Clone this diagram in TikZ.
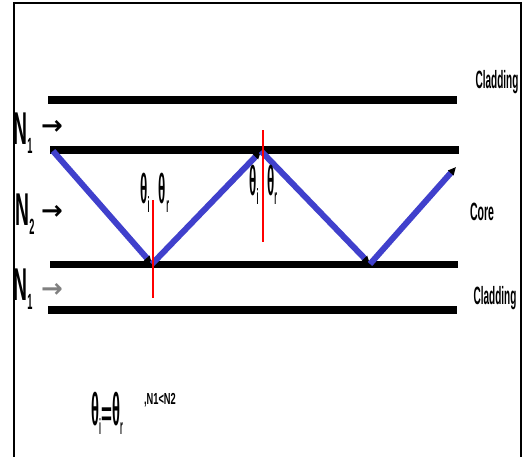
\documentclass[tikz,border=0pt]{standalone}
\usepackage{fontspec}
\setmainfont{Liberation Sans}
\newfontfamily\symfont{DejaVu Sans}
\usetikzlibrary{arrows.meta}
\definecolor{raycol}{RGB}{64,64,204}
\newcommand\squeeze[2]{\scalebox{#1}[1]{#2}}
\newcommand\bigN[1]{\squeeze{0.42}{\fontsize{46}{46}\selectfont\bfseries N\raisebox{-9pt}{\fontsize{22}{22}\selectfont #1}}}
\newcommand\thsub[2][42]{\squeeze{0.32}{\fontsize{#1}{#1}\selectfont\bfseries θ\raisebox{-9pt}{\fontsize{22}{22}\selectfont #2}}}
\begin{document}
\begin{tikzpicture}[x=1pt,y=-1pt,
  bar/.style={line width=8pt},
  ray/.style={raycol,line width=6pt,-{Triangle[length=8pt,width=7pt,color=black]}},
  normal/.style={red,line width=1.3pt},
  side/.style={font=\fontsize{25}{25}\selectfont\bfseries},
  pointer/.style={font=\symfont\bfseries\fontsize{26}{26}\selectfont, inner sep=0pt},
  lab/.style={inner sep=0pt}]
\useasboundingbox (0,0) rectangle (525,456);
\fill[white] (0,0) rectangle (525,456);
% outer frame, open at the bottom
\draw[line width=1.6pt] (14,460) -- (14,3) -- (521,3) -- (521,460);

% cladding / core boundaries
\coordinate (b1l) at (48,100);  \coordinate (b1r) at (457,100);
\coordinate (b2l) at (50,150);  \coordinate (b2r) at (459,150);
\coordinate (b3l) at (50,264);  \coordinate (b3r) at (458,264);
\coordinate (b4l) at (48,310);  \coordinate (b4r) at (457,310);
\draw[bar] (b1l) -- (b1r);
\draw[bar] (b2l) -- (b2r);
\draw[bar,line width=7pt] (b3l) -- (b3r);
\draw[bar] (b4l) -- (b4r);

% normals at the reflection points
\coordinate (n1a) at (153,200); \coordinate (n1b) at (153,298);
\coordinate (n2a) at (263,130); \coordinate (n2b) at (263,242);

% zig-zag ray
\coordinate (p0) at (53,151);
\coordinate (p1) at (152,264);
\coordinate (p2) at (261,151);
\coordinate (p3) at (370,264);
\coordinate (p4) at (456,167);
\draw[ray] (p0) -- (p1);
\draw[ray] (p1) -- (p2);
\draw[ray] (p2) -- (p3);
\draw[ray] (p3) -- (p4);
\draw[normal] (n1a) -- (n1b);
\draw[normal] (n2a) -- (n2b);

% refractive index labels
\node[lab] (na) at (23,133) {\bigN{1}};
\node[lab] (nb) at (25,214) {\bigN{2}};
\node[lab] (nc) at (23,289) {\bigN{1}};
\node[pointer] (aa) at (52,127) {→};
\node[pointer] (ab) at (52,212) {→};
\node[pointer,gray] (ac) at (52,290) {→};

% angle labels
\node[lab] (t1i) at (145,193) {\thsub{i}};
\node[lab] (t1r) at (164,193) {\thsub{r}};
\node[lab] (t2i) at (254,185) {\thsub{i}};
\node[lab] (t2r) at (272,185) {\thsub{r}};

% region names
\node[side] (clad1) at (497,82) {\squeeze{0.4}{Cladding}};
\node[side] (core) at (482,212) {\squeeze{0.42}{Core}};
\node[side] (clad2) at (495,298) {\squeeze{0.4}{Cladding}};

% relation below the fibre
\node[lab] (eq) at (107,413) {\thsub[46]{i}\squeeze{0.55}{\fontsize{34}{34}\selectfont\bfseries =}\thsub[46]{r}};
\node[lab,font=\fontsize{16}{16}\selectfont\bfseries] (rel) at (160,400) {\squeeze{0.58}{,N1<N2}};
\end{tikzpicture}
\end{document}
